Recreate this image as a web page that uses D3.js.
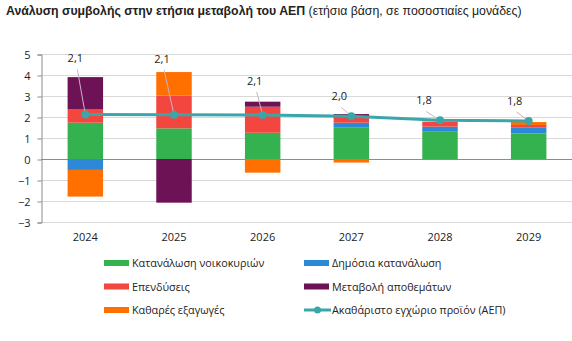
<!DOCTYPE html>
<html>
<head>
<meta charset="utf-8">
<script src="https://cdn.jsdelivr.net/npm/d3@7"></script>
<style>
  body { margin: 0; background: #fff; }
  svg { display: block; }
  text { font-family: "Open Sans", "Noto Sans", sans-serif; fill: #222; }
</style>
</head>
<body>
<div id="chart"></div>
<script>
// Contributions to annual GDP change (percentage points)
const years = ["2024", "2025", "2026", "2027", "2028", "2029"]
const household = [1.73, 1.46, 1.25, 1.49, 1.30, 1.22]
const government = [-0.52, 0.00, 0.00, 0.24, 0.24, 0.29]
const investment = [0.65, 1.56, 1.24, 0.25, 0.24, 0.11]
const inventories = [1.52, -2.08, 0.24, 0.16, 0.00, 0.00]
const netExports = [-1.27, 1.12, -0.65, -0.17, 0.00, 0.14]
const gdp = [2.12, 2.11, 2.10, 2.03, 1.84, 1.81]
const yTicks = [-3, -2, -1, 0, 1, 2, 3, 4, 5]

const seriesNames = [
  "Κατανάλωση νοικοκυριών",
  "Δημόσια κατανάλωση",
  "Επενδύσεις",
  "Μεταβολή αποθεμάτων",
  "Καθαρές εξαγωγές"
]
const gdpName = "Ακαθάριστο εγχώριο προϊόν (ΑΕΠ)"
const colors = ["#33b24f", "#2e88d8", "#f2463e", "#6e1256", "#ff7000"]
const lineColor = "#3ba6a9"

// where each value label sits relative to its point
const labelOffsets = [[-10, -52], [-12, -52], [-8, -30], [-12, -16], [-16, -16], [-14, -16]]

const width = 572, height = 341

const svg = d3.select("#chart").append("svg")
  .attr("width", width)
  .attr("height", height)

svg.append("text")
  .attr("x", 6)
  .attr("y", 15)
  .style("font-family", "'Liberation Sans', Arial, sans-serif")
  .style("font-size", "12.3px")
  .call(function(t) {
    t.append("tspan").style("font-weight", "bold").text("Ανάλυση συμβολής στην ετήσια μεταβολή του ΑΕΠ")
    t.append("tspan").text(" (ετήσια βάση, σε ποσοστιαίες μονάδες)")
  })

const x = d3.scaleBand()
  .domain(years)
  .range([41, 573])
  .paddingInner(0.6)
  .paddingOuter(0.3)

const y = d3.scaleLinear()
  .domain([-3, 5])
  .range([222, 54])

// gridlines
svg.append("g")
  .selectAll("line")
  .data(yTicks)
  .enter().append("line")
  .attr("x1", 41)
  .attr("x2", width)
  .attr("y1", function(d) { return y(d) + 0.5 })
  .attr("y2", function(d) { return y(d) + 0.5 })
  .attr("stroke", function(d) { return d === 0 ? "#8c8c8c" : "#d9d9d9" })
  .attr("stroke-width", 1)

// y axis
const yAxis = svg.append("g")
  .attr("transform", "translate(41.5,0.5)")
  .call(d3.axisLeft(y).tickValues(yTicks).tickSize(4).tickPadding(7).tickFormat(d3.format("d")))
yAxis.select(".domain").attr("stroke", "#8c8c8c")
yAxis.selectAll(".tick line").attr("stroke", "#8c8c8c")
yAxis.selectAll("text")
  .style("font-family", "'Open Sans', sans-serif")
  .style("font-size", "11px")
  .attr("fill", "#222")

// x labels
svg.append("g")
  .selectAll("text")
  .data(years)
  .enter().append("text")
  .attr("x", function(d) { return x(d) + x.bandwidth() / 2 })
  .attr("y", 241)
  .attr("text-anchor", "middle")
  .style("font-size", "11px")
  .text(function(d) { return d })

// stacked bars
const table = years.map(function(year, i) {
  return {
    year: year,
    s0: household[i],
    s1: government[i],
    s2: investment[i],
    s3: inventories[i],
    s4: netExports[i]
  }
})
const stack = d3.stack()
  .keys(["s0", "s1", "s2", "s3", "s4"])
  .offset(d3.stackOffsetDiverging)
const stacked = stack(table)

svg.append("g")
  .selectAll("g")
  .data(stacked)
  .enter().append("g")
  .attr("fill", function(d, i) { return colors[i] })
  .selectAll("rect")
  .data(function(d) { return d })
  .enter().append("rect")
  .attr("x", function(d) { return x(d.data.year) })
  .attr("width", x.bandwidth())
  .attr("y", function(d) { return y(Math.max(d[0], d[1])) })
  .attr("height", function(d) { return Math.abs(y(d[0]) - y(d[1])) })

// GDP line
const cx = function(i) { return x(years[i]) + x.bandwidth() / 2 }
const line = d3.line()
  .x(function(d, i) { return cx(i) })
  .y(function(d) { return y(d) })

svg.append("path")
  .datum(gdp)
  .attr("fill", "none")
  .attr("stroke", lineColor)
  .attr("stroke-width", 3)
  .attr("d", line)

// leader lines
svg.append("g")
  .selectAll("line")
  .data(gdp)
  .enter().append("line")
  .attr("x1", function(d, i) { return cx(i) + labelOffsets[i][0] + 2 })
  .attr("y1", function(d, i) { return y(d) + labelOffsets[i][1] + 7 })
  .attr("x2", function(d, i) { return cx(i) })
  .attr("y2", function(d) { return y(d) })
  .attr("stroke", "#c9b3c9")
  .attr("stroke-width", 1)

svg.append("g")
  .selectAll("circle")
  .data(gdp)
  .enter().append("circle")
  .attr("cx", function(d, i) { return cx(i) })
  .attr("cy", function(d) { return y(d) })
  .attr("r", 4)
  .attr("fill", lineColor)

const fmt = function(v) { return d3.format(".1f")(v).replace(".", ",") }
svg.append("g")
  .selectAll("text")
  .data(gdp)
  .enter().append("text")
  .attr("x", function(d, i) { return cx(i) + labelOffsets[i][0] })
  .attr("y", function(d, i) { return y(d) + labelOffsets[i][1] })
  .attr("text-anchor", "middle")
  .style("font-size", "11px")
  .text(function(d) { return fmt(d) })

// legend
const legendItems = seriesNames.map(function(n, i) { return { name: n, color: colors[i], line: false } })
legendItems.push({ name: gdpName, color: lineColor, line: true })

const legend = svg.append("g")
  .selectAll("g")
  .data(legendItems)
  .enter().append("g")
  .attr("transform", function(d, i) {
    return "translate(" + (i % 2 === 0 ? 104 : 304) + "," + (263 + Math.floor(i / 2) * 23.5) + ")"
  })

legend.filter(function(d) { return !d.line })
  .append("rect")
  .attr("x", 0)
  .attr("y", -3)
  .attr("width", 25)
  .attr("height", 6)
  .attr("fill", function(d) { return d.color })

const lineItem = legend.filter(function(d) { return d.line })
lineItem.append("line")
  .attr("x1", 0).attr("x2", 27)
  .attr("y1", 0).attr("y2", 0)
  .attr("stroke", function(d) { return d.color })
  .attr("stroke-width", 3)
lineItem.append("circle")
  .attr("cx", 13.5).attr("cy", 0).attr("r", 3.5)
  .attr("fill", function(d) { return d.color })

legend.append("text")
  .attr("x", 28)
  .attr("y", 4)
  .style("font-size", "10.8px")
  .text(function(d) { return d.name })
</script>
</body>
</html>
